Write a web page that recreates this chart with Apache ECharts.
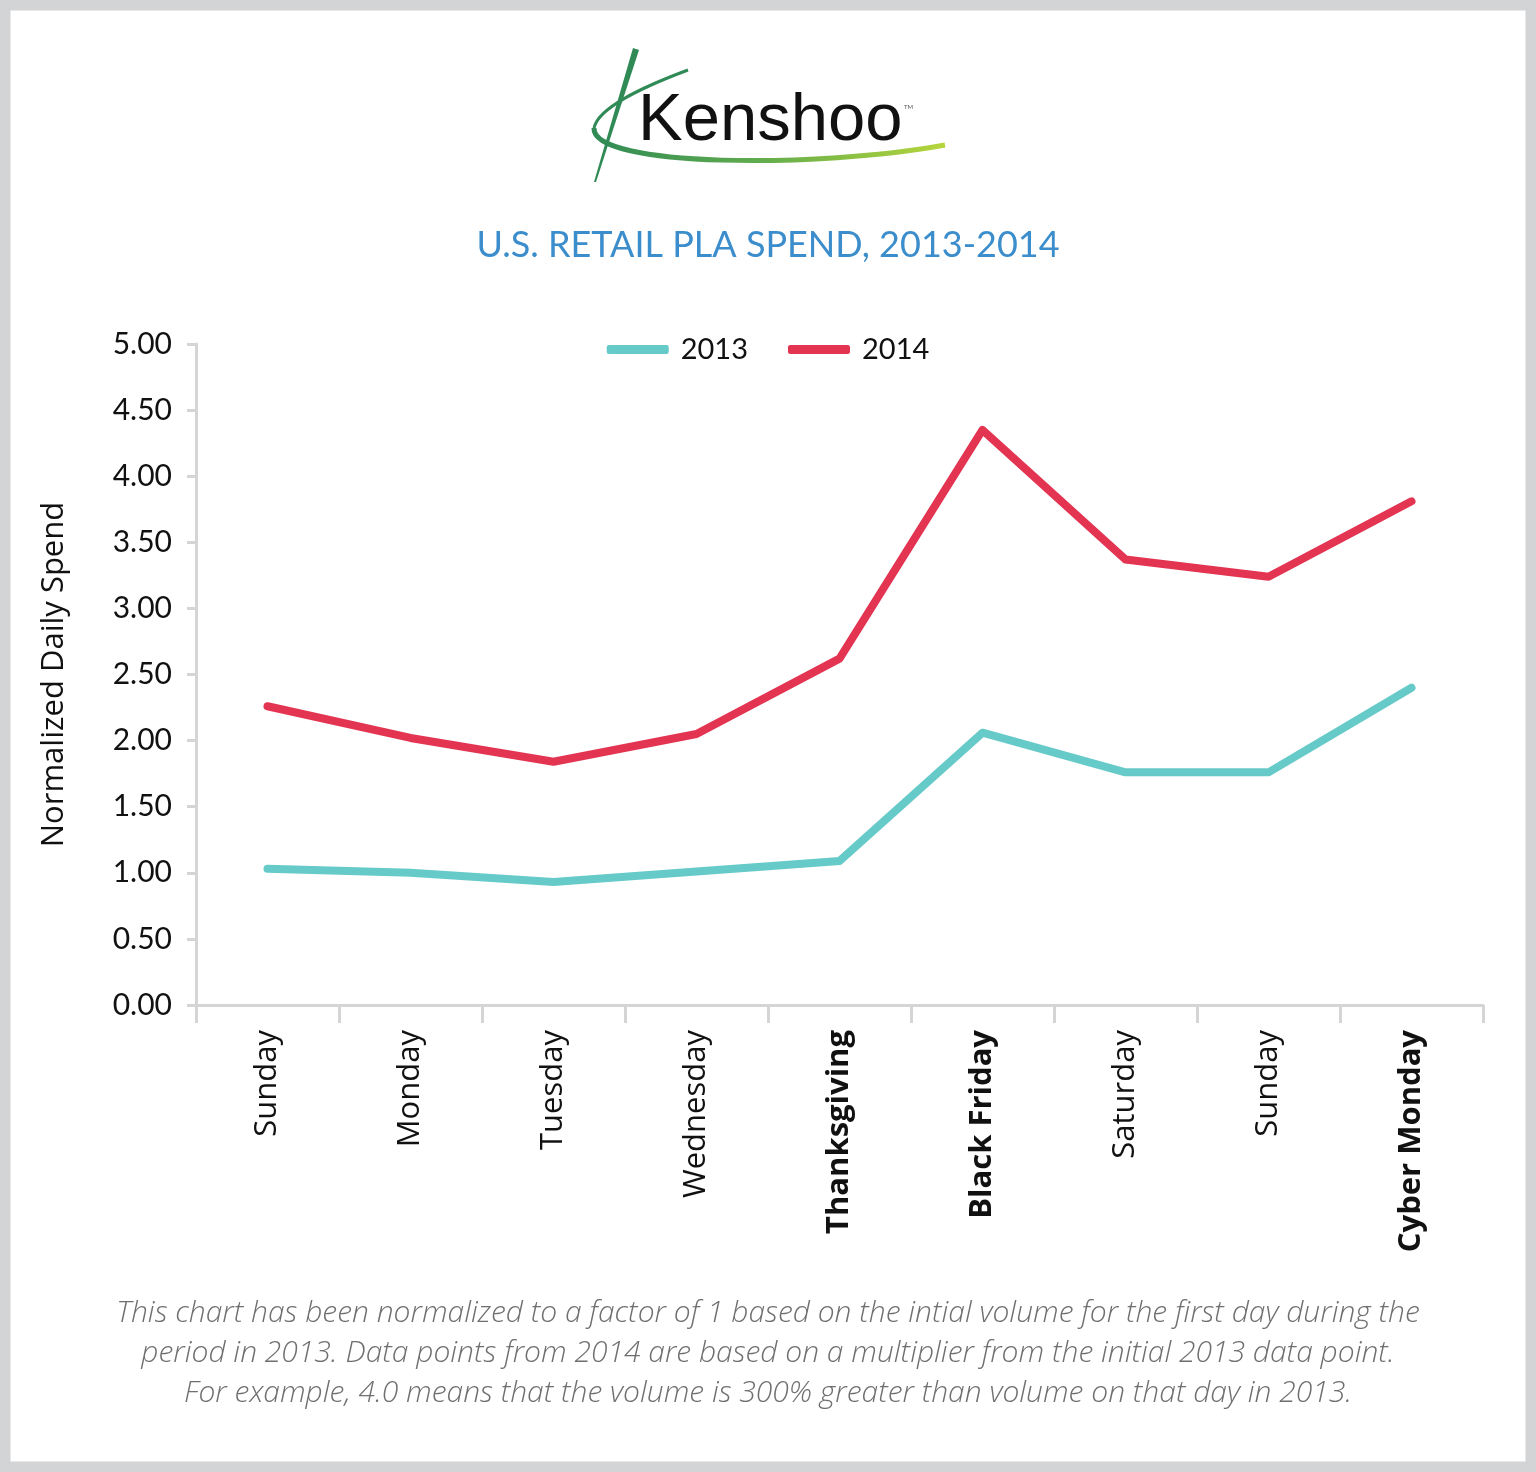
<!DOCTYPE html>
<html>
<head>
<meta charset="utf-8">
<style>
html, body { margin: 0; padding: 0; background: #fff; }
#main { position: absolute; left: 0; top: 0; width: 1536px; height: 1472px; }
</style>
<script src="https://cdn.jsdelivr.net/npm/echarts@6/dist/echarts.min.js"></script>
</head>
<body>
<div id="main"></div>
<script>
// data
var days = ['Sunday', 'Monday', 'Tuesday', 'Wednesday', 'Thanksgiving', 'Black Friday', 'Saturday', 'Sunday', 'Cyber Monday'];
var boldDays = [4, 5, 8];   // indexes drawn in bold
var spend2013 = [1.03, 1.00, 0.93, 1.01, 1.09, 2.06, 1.76, 1.76, 2.40];
var spend2014 = [2.26, 2.02, 1.84, 2.05, 2.62, 4.35, 3.37, 3.24, 3.81];
var yearNames = ['2013', '2014'];
var footnote = [
    'This chart has been normalized to a factor of 1 based on the intial volume for the first day during the',
    'period in 2013. Data points from 2014 are based on a multiplier from the initial 2013 data point.',
    'For example, 4.0 means that the volume is 300% greater than volume on that day in 2013.'
];

var chart = echarts.init(document.getElementById('main'));

// footnote lines, each centred on the page
var noteText = footnote.map(function (line, i) {
    return {
        type: 'text',
        x: 768,
        y: 1313 + i * 40,
        style: {
            text: line,
            align: 'center',
            verticalAlign: 'middle',
            fill: '#6f6f6f',
            fontFamily: 'Open Sans',
            fontStyle: 'italic',
            fontWeight: 300,
            fontSize: 30
        }
    };
});

var option = {
    backgroundColor: '#fff',
    color: ['#66cac9', '#e33452'],
    animation: false,
    title: {
        text: 'U.S. RETAIL PLA SPEND, 2013-2014',
        left: 'center',
        top: 222,
        textStyle: {
            color: '#3b8dcc',
            fontFamily: 'Lato',
            fontWeight: 'normal',
            fontSize: 36
        }
    },
    legend: {
        top: 330,
        left: 'center',
        icon: 'roundRect',
        itemWidth: 62,
        itemHeight: 9,
        itemGap: 40,
        textStyle: {
            color: '#111',
            fontFamily: 'Lato',
            fontSize: 29,
            padding: [0, 0, 0, 7]
        },
        data: yearNames
    },
    grid: {
        left: 196,
        right: 53,
        top: 344,
        bottom: 467
    },
    xAxis: {
        type: 'category',
        data: days,
        boundaryGap: true,
        axisLine: { lineStyle: { color: '#d5d5d5', width: 3 } },
        axisTick: { show: true, length: 18, lineStyle: { color: '#d5d5d5', width: 3 } },
        axisLabel: {
            interval: 0,
            rotate: 90,
            margin: 25,
            color: '#111',
            fontFamily: 'Open Sans',
            fontSize: 31,
            formatter: function (v, i) {
                return boldDays.indexOf(i) >= 0 ? '{b|' + v + '}' : v;
            },
            rich: {
                b: { fontFamily: 'Open Sans', fontWeight: 'bold', fontSize: 31, color: '#111' }
            }
        }
    },
    yAxis: {
        type: 'value',
        min: 0,
        max: 5,
        interval: 0.5,
        name: 'Normalized Daily Spend',
        nameLocation: 'middle',
        nameGap: 126,
        nameTextStyle: {
            color: '#111',
            fontFamily: 'Open Sans',
            fontSize: 31
        },
        axisLine: { show: true, lineStyle: { color: '#d5d5d5', width: 3 } },
        axisTick: { show: true, length: 9, lineStyle: { color: '#d5d5d5', width: 3 } },
        splitLine: { show: false },
        axisLabel: {
            margin: 24,
            color: '#111',
            fontFamily: 'Lato',
            fontSize: 30,
            formatter: function (v) { return v.toFixed(2); }
        }
    },
    series: [
        {
            name: yearNames[0],
            type: 'line',
            symbol: 'none',
            lineStyle: { width: 8, cap: 'round', join: 'round' },
            data: spend2013
        },
        {
            name: yearNames[1],
            type: 'line',
            symbol: 'none',
            lineStyle: { width: 8, cap: 'round', join: 'round' },
            data: spend2014
        }
    ],
    graphic: [
        // grey frame
        {
            type: 'rect',
            shape: { x: 0, y: 0, width: 1536, height: 1472 },
            style: { fill: null, stroke: '#d3d4d6', lineWidth: 21 },
            silent: true
        },
        // logo swoosh
        {
            type: 'bezierCurve',
            shape: { x1: 688, y1: 70, cpx1: 640, cpy1: 88, cpx2: 598, cpy2: 108, x2: 594, y2: 128 },
            style: { stroke: '#2f8a55', lineWidth: 3, fill: null }
        },
        {
            type: 'bezierCurve',
            shape: { x1: 594, y1: 128, cpx1: 592, cpy1: 168, cpx2: 820, cpy2: 168, x2: 945, y2: 145 },
            style: {
                fill: null,
                lineWidth: 5,
                stroke: new echarts.graphic.LinearGradient(0, 0, 1, 0, [
                    { offset: 0, color: '#2f8a55' },
                    { offset: 0.45, color: '#5eaa4e' },
                    { offset: 1, color: '#b7d63a' }
                ])
            }
        },
        {
            type: 'polygon',
            shape: { points: [[633, 48], [639, 50], [596, 182], [594, 182]] },
            style: { fill: '#2f8a55' }
        },
        {
            type: 'text',
            left: 638,
            top: 88,
            style: {
                text: 'Kenshoo',
                fill: '#111',
                fontFamily: 'Liberation Sans',
                fontSize: 67
            }
        },
        {
            type: 'text',
            left: 904,
            top: 104,
            style: { text: 'TM', fill: '#555', fontFamily: 'Lato', fontSize: 6 }
        }
    ].concat(noteText)
};

chart.setOption(option);
</script>
</body>
</html>
